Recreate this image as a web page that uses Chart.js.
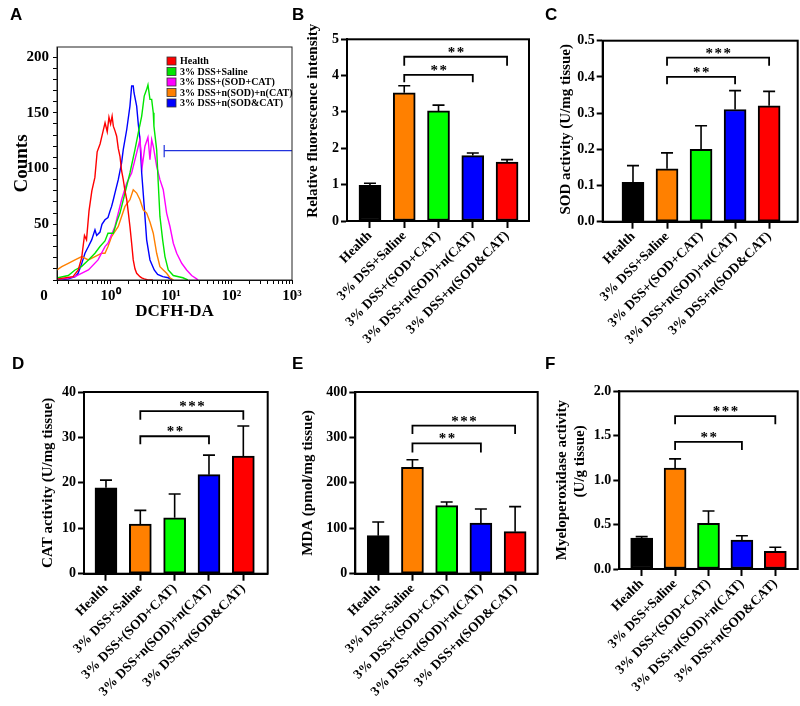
<!DOCTYPE html>
<html>
<head>
<meta charset="utf-8">
<script src="https://cdn.jsdelivr.net/npm/chart.js@4.4.0/dist/chart.umd.min.js"></script>
<style>
  body { margin: 0; background: #fff; }
  #fig { position: relative; width: 800px; height: 706px; overflow: hidden; }
  #fig canvas { position: absolute; left: 0; top: 0; }
  .tag { position: absolute; font: bold 17px "Liberation Sans", Arial, sans-serif; line-height: 17px; color: #000; }
</style>
</head>
<body>
<div id="fig">
  <canvas id="chartA" width="800" height="706"></canvas>
  <canvas id="chartB" width="800" height="706"></canvas>
  <canvas id="chartC" width="800" height="706"></canvas>
  <canvas id="chartD" width="800" height="706"></canvas>
  <canvas id="chartE" width="800" height="706"></canvas>
  <canvas id="chartF" width="800" height="706"></canvas>
  <div class="tag" style="left:10px;top:6px">A</div>
  <div class="tag" style="left:292px;top:6px">B</div>
  <div class="tag" style="left:545px;top:6px">C</div>
  <div class="tag" style="left:12px;top:355px">D</div>
  <div class="tag" style="left:292px;top:355px">E</div>
  <div class="tag" style="left:545px;top:355px">F</div>
</div>
<script>
// groups (bar panels)
const groups = ['Health', '3% DSS+Saline', '3% DSS+(SOD+CAT)', '3% DSS+n(SOD)+n(CAT)', '3% DSS+n(SOD&CAT)'];
const barColors = ['#000000', '#FF8000', '#00FF00', '#0000FF', '#FF0000'];

// B - relative fluorescence intensity
const fluoMean = [0.98, 3.53, 3.03, 1.80, 1.62];
const fluoErr = [0.06, 0.19, 0.16, 0.07, 0.07];
// C - SOD activity
const sodMean = [0.109, 0.146, 0.200, 0.310, 0.320];
const sodErr = [0.046, 0.044, 0.065, 0.052, 0.040];
// D - CAT activity
const catMean = [18.9, 10.95, 12.3, 21.8, 25.9];
const catErr = [1.7, 3.0, 5.25, 4.3, 6.6];
// E - MDA
const mdaMean = [83.7, 234, 149.8, 111.7, 92.5];
const mdaErr = [30.2, 17, 8.2, 30.8, 55.1];
// F - MPO
const mpoMean = [0.349, 1.137, 0.514, 0.326, 0.200];
const mpoErr = [0.015, 0.103, 0.139, 0.049, 0.044];

// significance brackets: [from, to, line y, foot y, label]
const fluoSig = [[1, 3, 4.02, 3.82, '**'], [1, 4, 4.52, 4.27, '**']];
const sodSig = [[1, 3, 0.400, 0.380, '**'], [1, 4, 0.453, 0.431, '***']];
const catSig = [[1, 3, 30.26, 28.5, '**'], [1, 4, 35.8, 33.9, '***']];
const mdaSig = [[1, 3, 287, 267, '**'], [1, 4, 325.8, 307.5, '***']];
const mpoSig = [[1, 3, 1.43, 1.34, '**'], [1, 4, 1.72, 1.63, '***']];

// A - flow cytometry histograms (DCFH-DA fluorescence, counts)
const histLabels = ['Health', '3% DSS+Saline', '3% DSS+(SOD+CAT)', '3% DSS+n(SOD)+n(CAT)', '3% DSS+n(SOD&CAT)'];
const histColors = ['#FF0000', '#00E600', '#FF00FF', '#FF8000', '#0000FF'];
const healthX = [0.135, 0.239, 0.292, 0.333, 0.37, 0.40, 0.44, 0.49, 0.55, 0.60, 0.67, 0.74, 0.81, 0.88, 0.94, 1.0, 1.06, 1.11, 1.18, 1.26, 1.34, 1.43, 1.52, 1.62, 1.73, 1.85, 1.97, 2.09, 2.23, 2.37, 2.53, 2.7, 3.06, 3.27, 3.6, 4.15, 5.0];
const healthY = [1, 3, 9, 20, 40, 36, 62, 80, 92, 115, 122, 132, 141, 133, 146, 140, 147, 138, 134, 129, 118, 111, 98, 90, 80, 72, 60, 48, 33, 18, 10, 6, 3, 2, 1, 0, 0];
const salineX = [0.135, 0.2, 0.258, 0.33, 0.43, 0.552, 0.668, 0.808, 0.906, 1.11, 1.26, 1.43, 1.73, 2.09, 2.53, 2.87, 3.27, 3.6, 3.95, 4.15, 4.48, 4.78, 5.08, 5.21, 5.78, 6.14, 6.55, 7.26, 7.93, 8.99, 10.9, 15.7, 19];
const salineY = [2, 4, 9, 12, 18, 24, 30, 35, 42, 42, 52, 60, 78, 96, 117, 132, 147, 165, 171, 175, 162, 162, 150, 138, 117, 87, 57, 36, 21, 9, 4, 2, 0];
const freeX = [0.135, 0.258, 0.43, 0.62, 0.808, 0.906, 1.18, 1.52, 1.85, 2.23, 2.7, 3.06, 3.34, 3.7, 4.15, 4.48, 4.78, 5.08, 5.78, 6.55, 7.43, 8.45, 9.59, 10.9, 12.4, 15.0, 18.1, 21.9, 26.5, 28];
const freeY = [0, 3, 9, 18, 30, 33, 48, 72, 87, 96, 114, 126, 102, 120, 128, 108, 126, 120, 102, 90, 81, 60, 48, 33, 24, 15, 9, 4, 1, 0];
const nanoMixX = [0.13, 0.156, 0.2, 0.258, 0.333, 0.428, 0.552, 0.713, 0.808, 0.906, 1.04, 1.34, 1.73, 2.09, 2.37, 2.7, 3.06, 3.47, 3.95, 4.48, 5.08, 5.78, 6.55, 7.43, 8.45, 9.59, 11];
const nanoMixY = [9, 12, 15, 18, 21, 18, 21, 24, 24, 30, 39, 48, 66, 72, 81, 78, 72, 63, 60, 52, 42, 24, 12, 9, 6, 2, 0];
const nanoCoX = [0.135, 0.2, 0.26, 0.29, 0.33, 0.377, 0.43, 0.487, 0.552, 0.589, 0.668, 0.72, 0.808, 0.906, 0.98, 1.04, 1.11, 1.18, 1.34, 1.52, 1.62, 1.85, 2.09, 2.23, 2.37, 2.44, 2.7, 2.87, 3.06, 3.27, 3.6, 3.95, 4.48, 5.27, 6.0, 7.3, 9.0, 10.5];
const nanoCoY = [0, 1, 3, 6, 14, 24, 30, 36, 45, 40, 43, 50, 54, 56, 62, 66, 72, 78, 90, 105, 117, 135, 156, 174, 174, 168, 156, 140, 126, 96, 66, 36, 18, 9, 5, 3, 2, 0];
const histX = [healthX, salineX, freeX, nanoMixX, nanoCoX];
const histY = [healthY, salineY, freeY, nanoMixY, nanoCoY];
// gate marker
const gateX = [7.7, 7.7, 7.7, 1000];
const gateY = [110, 121, 116, 116];

const serif = '"Liberation Serif", "Times New Roman", serif';
const black = '#000';

// ---------- panel A ----------
const legendPlugin = {
  id: 'histLegend',
  afterDatasetsDraw(chart) {
    const { ctx, chartArea } = chart;
    const x0 = chartArea.left + 110;
    const y0 = chartArea.top + 14;
    ctx.save();
    ctx.font = 'bold 10px ' + serif;
    ctx.textBaseline = 'middle';
    histLabels.forEach((lab, i) => {
      const yc = y0 + i * 10.5;
      ctx.fillStyle = histColors[i];
      ctx.fillRect(x0, yc - 4, 9, 8);
      ctx.strokeStyle = '#333';
      ctx.lineWidth = 0.8;
      ctx.strokeRect(x0, yc - 4, 9, 8);
      ctx.fillStyle = black;
      ctx.fillText(lab, x0 + 13, yc + 0.5);
    });
    ctx.restore();
  }
};

const thinFrame = {
  id: 'thinFrame',
  afterDraw(chart) {
    const a = chart.chartArea;
    chart.ctx.save();
    chart.ctx.strokeStyle = '#222';
    chart.ctx.lineWidth = 1;
    chart.ctx.strokeRect(a.left, a.top, a.right - a.left, a.bottom - a.top);
    chart.ctx.restore();
  }
};

const supLabel = { 1: '10\u2070', 10: '10\u00B9', 100: '10\u00B2', 1000: '10\u00B3' };

new Chart(document.getElementById('chartA'), {
  type: 'line',
  data: {
    datasets: histX.map((xs, k) => ({
      label: histLabels[k],
      data: xs.map((v, i) => ({ x: v, y: histY[k][i] })),
      borderColor: histColors[k],
      borderWidth: 1.4,
      pointRadius: 0,
      tension: 0
    })).concat([{
      label: 'gate',
      data: gateX.map((v, i) => ({ x: v, y: gateY[i] })),
      borderColor: '#2233DD',
      borderWidth: 1.2,
      pointRadius: 0,
      tension: 0
    }])
  },
  options: {
    responsive: false, animation: false, events: [],
    layout: { padding: { left: 10.6, top: 47, right: 508, bottom: 706 - 280 - 42 } },
    plugins: { legend: { display: false }, tooltip: { enabled: false } },
    scales: {
      x: {
        type: 'logarithmic', min: 0.13, max: 1000,
        afterBuildTicks: s => {
          const t = [{ value: 0.13 }];
          for (let e = -1; e <= 2; e++) {
            for (let m = 1; m <= 9; m++) {
              const v = Math.round(m * Math.pow(10, e) * 1000) / 1000;
              if (v > 0.13) t.push({ value: v });
            }
          }
          t.push({ value: 1000 });
          s.ticks = t;
        },
        afterFit: s => { s.height = 42; },
        ticks: {
          autoSkip: false, maxRotation: 0, padding: 3, color: black,
          font: { family: serif, size: 15, weight: 'bold' },
          callback: v => v === 0.13 ? '0       ' : (supLabel[v] || '')
        },
        grid: { drawOnChartArea: false, tickLength: 4, color: black, lineWidth: 1 },
        border: { color: black, width: 1 },
        title: { display: true, text: 'DCFH-DA', color: black, padding: 0, font: { family: serif, size: 17, weight: 'bold' } }
      },
      y: {
        min: 0, max: 209,
        afterBuildTicks: s => {
          const t = [];
          for (let v = 0; v <= 200; v += 10) t.push({ value: v });
          s.ticks = t;
        },
        afterFit: s => { s.width = 57 - 10.6; },
        ticks: {
          autoSkip: false, padding: 4, color: black,
          font: { family: serif, size: 15, weight: 'bold' },
          callback: v => (v > 0 && v % 50 === 0) ? String(v) : ''
        },
        grid: { drawOnChartArea: false, tickLength: 4, color: black, lineWidth: 1 },
        border: { color: black, width: 1 },
        title: { display: true, text: 'Counts', color: black, padding: 0, font: { family: serif, size: 19, weight: 'bold' } }
      }
    }
  },
  plugins: [legendPlugin, thinFrame]
});

// ---------- bar panels ----------
function barPanel(id, o) {
  const deco = {
    id: 'deco_' + id,
    afterDatasetsDraw(chart) {
      const { ctx, chartArea: a } = chart;
      const xs = chart.scales.x, ys = chart.scales.y;
      ctx.save();
      ctx.strokeStyle = black;
      // error bars
      ctx.lineWidth = 1.6;
      o.mean.forEach((m, i) => {
        const px = xs.getPixelForValue(i);
        const y0 = ys.getPixelForValue(m);
        const y1 = ys.getPixelForValue(m + o.err[i]);
        ctx.beginPath();
        ctx.moveTo(px, y0); ctx.lineTo(px, y1);
        ctx.moveTo(px - 6, y1); ctx.lineTo(px + 6, y1);
        ctx.stroke();
      });
      // brackets
      ctx.lineWidth = 1.8;
      ctx.fillStyle = black;
      ctx.font = 'bold 15px ' + serif;
      ctx.letterSpacing = '1.5px';
      ctx.textAlign = 'center';
      ctx.textBaseline = 'alphabetic';
      o.sig.forEach(b => {
        const x1 = xs.getPixelForValue(b[0]), x2 = xs.getPixelForValue(b[1]);
        const yl = ys.getPixelForValue(b[2]), yf = ys.getPixelForValue(b[3]);
        ctx.beginPath();
        ctx.moveTo(x1, yf); ctx.lineTo(x1, yl); ctx.lineTo(x2, yl); ctx.lineTo(x2, yf);
        ctx.stroke();
        ctx.fillText(b[4], (x1 + x2) / 2 + 1, yl);
      });
      // box frame
      ctx.lineWidth = 2;
      ctx.strokeRect(a.left, a.top, a.right - a.left, a.bottom - a.top);
      ctx.restore();
    }
  };
  const xh = Math.min(140, 706 - o.box[3]);
  new Chart(document.getElementById(id), {
    type: 'bar',
    data: {
      datasets: [{
        data: o.mean.map((v, i) => ({ x: i, y: v })),
        backgroundColor: barColors,
        borderColor: black,
        borderWidth: 2,
        borderSkipped: false,
        barThickness: 22
      }]
    },
    options: {
      responsive: false, animation: false, events: [],
      layout: { padding: { left: o.titleX - 9, top: o.box[1], right: 800 - o.box[2], bottom: 706 - o.box[3] - xh } },
      plugins: { legend: { display: false }, tooltip: { enabled: false } },
      scales: {
        x: {
          type: 'linear', min: o.xr[0], max: o.xr[1], offset: false,
          afterBuildTicks: s => { s.ticks = groups.map((g, i) => ({ value: i })); },
          afterFit: s => { s.height = xh; },
          ticks: {
            autoSkip: false, minRotation: 45, maxRotation: 45, padding: 0, color: black,
            font: { family: serif, size: 13.5, weight: 'bold' },
            callback: v => groups[v]
          },
          grid: { offset: false, drawOnChartArea: false, tickLength: 7, tickWidth: 2, tickColor: black, color: black },
          border: { color: black, width: 2 }
        },
        y: {
          min: 0, max: o.ymax,
          afterFit: s => { s.width = o.box[0] - (o.titleX - 9); },
          ticks: {
            stepSize: o.step, padding: 2, color: black,
            font: { family: serif, size: 14, weight: 'bold' },
            callback: v => v.toFixed(o.dec)
          },
          grid: { drawOnChartArea: false, tickLength: 6, tickWidth: 2, tickColor: black, color: black },
          border: { color: black, width: 2 },
          title: { display: true, text: o.title, color: black, padding: 0, font: { family: serif, size: 15, weight: 'bold', lineHeight: 1.2 } }
        }
      }
    },
    plugins: [deco]
  });
}

barPanel('chartB', { mean: fluoMean, err: fluoErr, sig: fluoSig, ymax: 5, step: 1, dec: 0,
  title: '     Relative fluorescence intensity', titleX: 313, box: [347, 39.3, 529, 221], xr: [-0.67, 4.64] });
barPanel('chartC', { mean: sodMean, err: sodErr, sig: sodSig, ymax: 0.5, step: 0.1, dec: 1,
  title: ' SOD activity (U/mg tissue)', titleX: 566, box: [602.7, 40.7, 797.7, 221.7], xr: [-0.89, 4.84] });
barPanel('chartD', { mean: catMean, err: catErr, sig: catSig, ymax: 40, step: 10, dec: 0,
  title: 'CAT activity (U/mg tissue)', titleX: 48, box: [84, 392, 267.7, 573.7], xr: [-0.64, 4.71] });
barPanel('chartE', { mean: mdaMean, err: mdaErr, sig: mdaSig, ymax: 400, step: 100, dec: 0,
  title: 'MDA (pmol/mg tissue)', titleX: 308, box: [355.3, 392, 537.7, 573.7], xr: [-0.67, 4.66] });
barPanel('chartF', { mean: mpoMean, err: mpoErr, sig: mpoSig, ymax: 2, step: 0.5, dec: 1,
  title: ['Myeloperoxidase activity', '          (U/g tissue)'], titleX: 562, box: [619.3, 391.3, 797.7, 569], xr: [-0.67, 4.67] });
</script>
</body>
</html>
